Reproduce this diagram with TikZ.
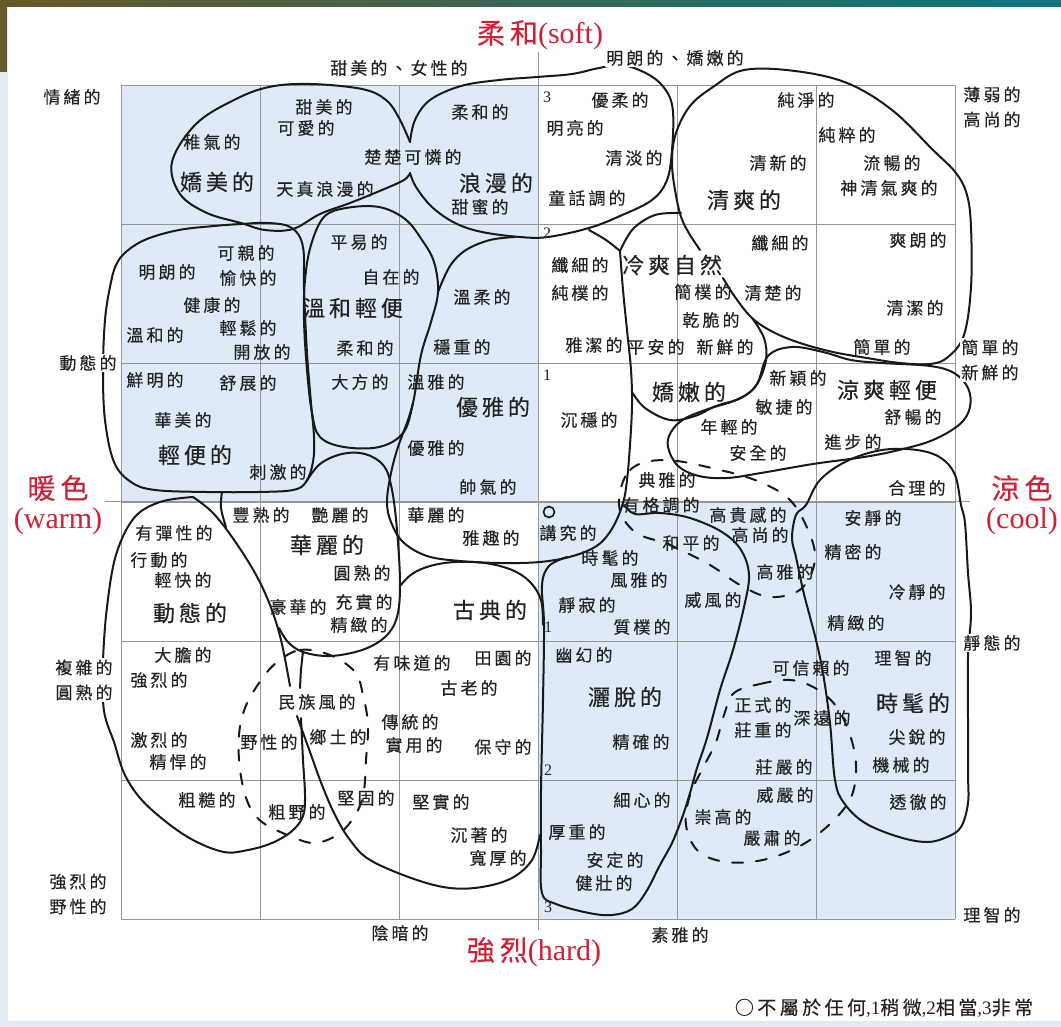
\documentclass[tikz,border=0pt]{standalone}
\usepackage{fontspec}
\setmainfont{Liberation Serif}
\newfontfamily\cjk{Noto Sans CJK TC}[LetterSpace=18, FakeBold=0.3]
\usetikzlibrary{positioning}
\definecolor{cellblue}{RGB}{222,234,247}
\definecolor{gridgray}{RGB}{150,150,150}
\definecolor{inkgray}{RGB}{35,35,35}
\definecolor{hotred}{RGB}{208,32,56}
\definecolor{barolive}{RGB}{104,88,40}
\definecolor{bargreen}{RGB}{22,140,62}
\definecolor{barteal}{RGB}{10,118,128}
\definecolor{framebl}{RGB}{226,235,244}

\begin{document}
\begin{tikzpicture}[x=1pt, y=-1pt,
  wd/.style={font=\cjk\fontsize{17}{20}\selectfont, text=inkgray, inner sep=0pt},
  bigwd/.style={wd, font=\cjk\fontsize{22}{24}\selectfont},
  lab/.style={wd, fill=white, inner sep=1.5pt, align=center, font=\cjk\fontsize{17}{25}\selectfont},
  hot/.style={text=hotred, inner sep=0pt, font=\fontsize{30}{32}\selectfont},
  num/.style={text=inkgray, inner sep=0pt, font=\fontsize{16}{18}\selectfont},
  gridline/.style={draw=gridgray, line width=0.9pt},
  rim/.style={draw=black!90, line width=2pt, line cap=round, line join=round},
  rimd/.style={rim, dash pattern=on 11pt off 13pt}]
\useasboundingbox (0,0) rectangle (1061,1027);
% frame and top bar
\fill[framebl] (0,0) rectangle (1061,1027);
\fill[white] (8,7) rectangle (1061,1021);
\shade[left color=barolive, middle color=bargreen, right color=barteal] (0,0) rectangle (1061,7);
\fill[barolive] (0,0) rectangle (7,72);
% cells
\fill[cellblue] (121,85) rectangle (538,501);
\fill[cellblue] (538,501) rectangle (955,919);
\foreach \k in {0,...,6} {
  \draw[gridline] (121+139*\k,85) -- (121+139*\k,919);
  \draw[gridline] (121,85+139*\k) -- (955,85+139*\k);
}
\draw[gridline] (538,52) -- (538,930);
\draw[gridline] (105,501) -- (970,501);

% groups, top half
\draw[rim] plot[smooth, tension=0.6] coordinates {(410,142) (399,118) (386,100) (362,89) (310,84) (269,87) (234,100) (196,124) (172,162) (180,194) (207,213) (241,223) (265,230) (293,229) (320,214) (350,203) (382,190) (404,180) (410,173)};
\draw[rim] plot[smooth, tension=0.6] coordinates {(410,142) (415,120) (430,100) (461,86) (499,80) (537,77) (572,74) (599,68) (623,65) (651,76) (667,92) (673,112) (672,150) (667,180) (652,200) (620,216) (589,228) (548,237) (520,237) (482,232) (455,223) (432,207) (416,187) (410,173)};
\draw[rim] plot[smooth, tension=0.6] coordinates {(700,250) (683,222) (675,190) (672,160) (676,133) (690,106) (713,87) (744,70) (795,71) (847,83) (892,110) (933,150) (956,173) (967,195) (971,227) (971,287) (964,335) (948,357) (930,364) (900,363) (867,358) (833,352) (800,343) (773,332) (752,318) (735,297) (723,278)};
\draw[rim] plot[smooth, tension=0.6] coordinates {(589,230) (606,240) (620,251)};
\draw[rim] plot[smooth, tension=0.6] coordinates {(620,251) (633,229) (655,215) (681,213)};
\draw[rim] plot[smooth, tension=0.6] coordinates {(620,251) (623,290) (627,330) (631,370) (632,405) (630,445) (627,480) (623,503) (613,527) (598,545) (573,556) (540,562) (500,563) (460,561) (427,556) (403,542) (391,522) (387,503) (390,478) (397,450) (408,420) (413,403)};
\draw[rim] plot[smooth, tension=0.6] coordinates {(438,292) (450,266) (466,250) (490,240) (515,237)};
\draw[rim] plot[smooth, tension=0.6] coordinates {(632,392) (645,408) (670,420) (695,416) (716,406) (741,398) (757,384) (766,360) (764,338) (752,318)};
\draw[rim] plot[smooth cycle, tension=0.6] coordinates {(768,356) (792,347) (823,352) (851,360) (882,363) (930,366) (954,373) (968,388) (970,407) (960,424) (933,440) (899,450) (864,457) (813,464) (761,473) (727,478) (699,476) (678,466) (668,447) (671,432) (684,419) (708,409) (736,400) (756,386)};
\draw[rim] plot[smooth cycle, tension=0.6] coordinates {(324,217) (346,208) (379,207) (405,219) (422,240) (434,262) (438,292) (431,322) (421,355) (413,403) (403,433) (379,447) (344,447) (320,437) (312,413) (307,370) (304,320) (305,280) (311,245)};
\draw[rim] plot[smooth cycle, tension=0.6] coordinates {(110,287) (116,265) (127,251) (147,239) (179,230) (214,226) (241,224) (269,223) (292,228) (303,247) (304,290) (307,353) (311,403) (314,437) (313,462) (306,482) (293,490) (258,492) (207,492) (155,490) (131,482) (114,462) (105,420) (103,370) (105,320)};

% groups, bottom half
\draw[rim] plot[smooth, tension=0.6] coordinates {(222,492) (221,508) (226,527)};
\draw[rim] plot[smooth, tension=0.6] coordinates {(306,482) (320,464) (342,454) (365,454) (384,466) (392,490) (397,530) (400,583) (397,617) (385,637) (362,650) (330,656) (303,652) (288,642) (279,628)};
\draw[rim] plot[smooth, tension=0.6] coordinates {(400,586) (412,574) (430,566) (455,562) (485,563) (512,570) (530,582) (541,600) (543,625)};
\draw[rim] plot[smooth, tension=0.6] coordinates {(193,497) (212,512) (232,537) (255,573) (270,605) (281,640) (290,686)};
\draw[rim] plot[smooth, tension=0.6] coordinates {(297,716) (310,752) (322,785) (335,815) (350,840) (370,860) (414,879) (450,888) (482,887) (512,878) (532,860) (540,835)};
\draw[rim] plot[smooth, tension=0.6] coordinates {(193,497) (160,502) (134,518) (116,555) (107,607) (103,660) (103,700) (106,720) (114,742) (124,773) (140,798) (165,821) (193,840) (224,852) (248,850) (272,843) (292,831) (303,816) (305,795) (303,760) (301,718)};
\draw[rim] plot[smooth, tension=0.6] coordinates {(303,652) (301,670) (300,688)};
\draw[rim] plot[smooth, tension=0.6] coordinates {(567,557) (549,566) (542,585) (544,625) (543,700) (541,790) (541,850) (542,893) (556,904) (589,913) (612,915) (632,909) (646,892) (660,865) (672,843) (682,818) (690,793) (697,768) (707,738) (720,690) (733,650) (744,607) (749,575) (741,550) (722,532) (690,518) (660,513) (635,514) (624,505)};
\draw[rim] plot[smooth cycle, tension=0.6] coordinates {(806,505) (820,480) (847,461) (882,450) (917,450) (941,458) (955,475) (961,505) (965,523) (968,573) (971,613) (968,657) (968,723) (968,773) (968,803) (961,827) (947,837) (927,842) (899,837) (865,823) (844,803) (835,780) (830,723) (823,673) (816,640) (810,617) (803,590) (796,557) (792,538) (796,515)};
\draw[rimd] plot[smooth cycle, tension=0.6] coordinates {(276,663) (300,650) (330,655) (355,672) (363,695) (368,725) (366,760) (364,790) (357,812) (340,833) (315,843) (290,836) (262,822) (248,803) (240,770) (239,735) (245,708) (259,683)};
\draw[rimd] plot[smooth cycle, tension=0.6] coordinates {(619,505) (630,470) (665,460) (720,470) (760,482) (790,500) (808,530) (815,560) (801,589) (770,597) (740,585) (710,565) (670,545) (635,532)};
\draw[rimd] plot[smooth cycle, tension=0.6] coordinates {(734,693) (760,684) (790,680) (815,688) (836,706) (850,735) (856,765) (852,795) (836,818) (810,840) (780,855) (750,862) (720,861) (697,850) (686,825) (690,795) (704,766) (716,742) (724,715)};
\draw[line width=1.6pt, draw=black!90] (549,512) circle (5.5);

% words
\foreach \px/\py/\txt [count=\i] in {
  212/142/稚氣的, 324/107/甜美的, 306/128/可愛的, 413/157/楚楚可憐的, 325/189/天真浪漫的,
  480/112/柔和的, 480/207/甜蜜的, 620/100/優柔的, 575/128/明亮的, 634/158/清淡的,
  587/198/童話調的, 806/100/純淨的, 847/135/純粹的, 778/163/清新的, 892/163/流暢的,
  889/188/神清氣爽的,
  246/253/可親的, 167/272/明朗的, 248/278/愉快的, 212/305/健康的, 155/335/溫和的,
  248/328/輕鬆的, 262/352/開放的, 359/242/平易的, 391/277/自在的, 365/348/柔和的,
  482/297/溫柔的, 462/347/穩重的, 155/380/鮮明的, 248/383/舒展的, 183/420/華美的,
  278/472/刺激的, 360/382/大方的, 436/382/溫雅的, 436/448/優雅的, 488/487/帥氣的,
  580/265/纖細的, 580/293/純樸的, 594/345/雅潔的, 703/292/簡樸的, 773/293/清楚的,
  711/320/乾脆的, 656/347/平安的, 725/347/新鮮的, 780/243/纖細的, 918/240/爽朗的,
  915/308/清潔的, 882/347/簡單的, 589/420/沉穩的, 798/378/新穎的, 784/407/敏捷的,
  729/427/年輕的, 758/453/安全的, 913/417/舒暢的, 853/442/進步的, 667/480/典雅的,
  917/488/合理的,
  661/505/有格調的, 568/533/講究的, 610/558/時髦的, 639/580/風雅的, 587/605/靜寂的,
  642/627/質樸的, 691/543/和平的, 713/600/威風的, 748/515/高貴感的, 760/535/高尚的,
  785/572/高雅的, 873/518/安靜的, 853/552/精密的, 917/592/冷靜的, 856/623/精緻的,
  584/655/幽幻的, 641/742/精確的, 811/668/可信賴的, 903/658/理智的, 763/705/正式的,
  763/730/莊重的, 822/718/深遠的, 917/737/尖銳的, 901/765/機械的, 784/767/莊嚴的,
  261/515/豐熟的, 340/515/艷麗的, 362/573/圓熟的, 298/607/豪華的, 364/602/充實的,
  359/625/精緻的, 174/533/有彈性的, 159/560/行動的, 183/580/輕快的, 436/515/華麗的,
  491/538/雅趣的, 183/655/大膽的, 159/680/強烈的, 159/740/激烈的, 178/762/精悍的,
  317/702/民族風的, 269/742/野性的, 338/737/鄉土的, 412/663/有味道的, 503/658/田園的,
  469/688/古老的, 410/722/傳統的, 414/745/實用的, 503/747/保守的,
  207/800/粗糙的, 297/812/粗野的, 366/798/堅固的, 441/802/堅實的, 479/835/沉著的,
  498/858/寬厚的, 642/800/細心的, 577/832/厚重的, 615/860/安定的, 604/883/健壯的,
  785/795/威嚴的, 723/817/崇高的, 772/838/嚴肅的, 918/802/透徹的}
  \node[wd] (w\i) at (\px,\py) {\txt};
\foreach \px/\py/\txt [count=\i] in {
  217/182/嬌美的, 496/183/浪漫的, 744/200/清爽的, 353/308/溫和輕便, 195/455/輕便的,
  493/407/優雅的, 672/265/冷爽自然, 689/392/嬌嫩的, 887/390/涼爽輕便, 625/697/灑脫的,
  913/703/時髦的, 327/545/華麗的, 190/613/動態的, 490/610/古典的}
  \node[bigwd] (b\i) at (\px,\py) {\txt};
\foreach \px/\py/\txt [count=\i] in {547/97/3, 547/233/2, 547/375/1, 548/627/1, 548/770/2, 548/907/3}
  \node[num] (n\i) at (\px,\py) {\txt};

% side labels
\node[lab] (emo) at (72,97) {情緒的};
\node[lab] (dyn) at (88,363) {動態的};
\node[lab] (cpx) at (84,680) {複雜的\\圓熟的};
\node[lab] (wild) at (78,894) {強烈的\\野性的};
\node[lab] (thin) at (992,107) {薄弱的\\高尚的};
\node[lab] (simp) at (990,360) {簡單的\\新鮮的};
\node[lab] (calm) at (992,643) {靜態的};
\node[lab] (reas) at (992,915) {理智的};
\node[lab] (sweet) at (399,68) {甜美的、女性的};
\node[lab] (bright) at (675,58) {明朗的、嬌嫩的};
\node[lab] (dark) at (400,933) {陰暗的};
\node[lab] (plain) at (680,935) {素雅的};
\node[hot] (soft) at (540,35) {{\cjk\fontsize{28}{30}\selectfont 柔和}(soft)};
\node[hot] (hard) at (534,952) {{\cjk\fontsize{28}{30}\selectfont 強烈}(hard)};
\node[hot] (warmcn) at (58,488) {{\cjk\fontsize{28}{30}\selectfont 暖色}};
\node[hot, below=6pt of warmcn] (warmen) {(warm)};
\node[hot] (coolcn) at (1022,488) {{\cjk\fontsize{28}{30}\selectfont 涼色}};
\node[hot, below=6pt of coolcn] (coolen) {(cool)};
\node[wd, font=\fontsize{19}{21}\selectfont] (key) at (884,1008) {{\cjk ○不屬於任何},1{\cjk 稍微},2{\cjk 相當},3{\cjk 非常}};
\end{tikzpicture}
\end{document}
